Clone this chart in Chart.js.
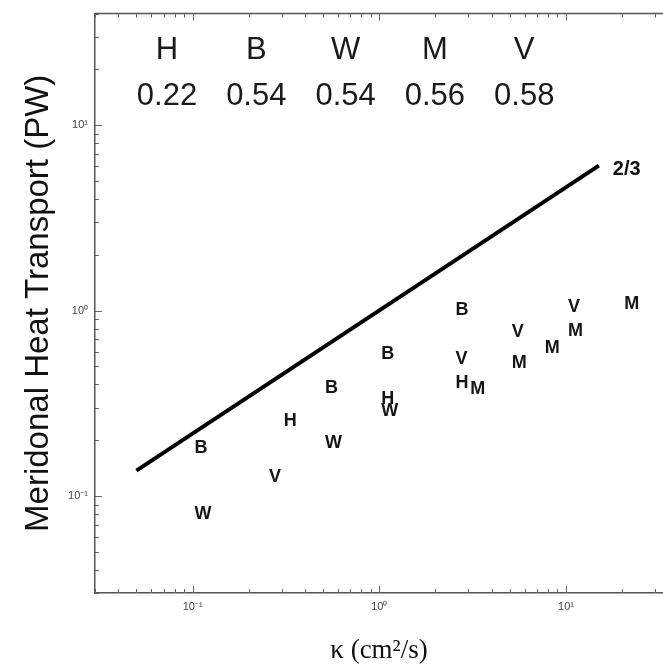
<!DOCTYPE html>
<html>
<head>
<meta charset="utf-8">
<script src="https://cdn.jsdelivr.net/npm/chart.js@4/dist/chart.umd.min.js"></script>
<style>
  html, body { margin: 0; padding: 0; background: #fff; overflow: hidden; }
  #wrap { width: 663px; height: 667px; }
</style>
</head>
<body>
<div id="wrap"><canvas id="c" width="663" height="667"></canvas></div>
<script>
// Diffusivity kappa (cm^2/s) and meridional heat transport (PW) for each model
const kappaH = [0.3, 1.0, 2.5];
const heatH  = [0.255, 0.334, 0.407];
const kappaB = [0.1, 0.5, 1.0, 2.5];
const heatB  = [0.181, 0.383, 0.582, 1.01];
const kappaW = [0.1, 0.5, 1.0];
const heatW  = [0.080, 0.192, 0.288];
const kappaM = [3.0, 5.0, 7.5, 10.0, 20.0];
const heatM  = [0.379, 0.521, 0.627, 0.773, 1.08];
const kappaV = [0.25, 2.5, 5.0, 10.0];
const heatV  = [0.126, 0.547, 0.762, 1.04];

// Header: model letters and fitted power-law exponents
const models    = ['H', 'B', 'W', 'M', 'V'];
const exponents = ['0.22', '0.54', '0.54', '0.56', '0.58'];

// Reference 2/3 power-law line
const refKappa = [0.05, 15];
const refHeat  = [0.137, 6.05];
const refLabel = '2/3';

// Axis ticks
const xTicks = [0.1, 1, 10];
const yTicks = [0.1, 1, 10];
const xTickLabels = ['10\u207B\u00B9', '10\u2070', '10\u00B9'];
const yTickLabels = ['10\u207B\u00B9', '10\u2070', '10\u00B9'];

const pts = (xs, ys) => xs.map((v, i) => ({ x: v, y: ys[i] }));
const letterSet = (letter, xs, ys) => ({
  letter, data: pts(xs, ys), showLine: false, pointRadius: 0, pointHoverRadius: 0
});

Chart.defaults.font.family = '"Liberation Sans", Arial, sans-serif';

// Inward ticks on bottom, left and top; top border line
const frame = {
  id: 'frame',
  afterDraw(chart) {
    const { ctx, chartArea: a, scales: { x, y } } = chart;
    ctx.save();
    ctx.strokeStyle = '#555';
    ctx.lineWidth = 1.5;
    ctx.beginPath();
    ctx.moveTo(a.left, a.top);
    ctx.lineTo(a.right, a.top);
    ctx.stroke();
    ctx.strokeStyle = '#666';
    ctx.lineWidth = 1;
    ctx.beginPath();
    for (let e = -2; e <= 2; e++) {
      for (let k = 1; k <= 9; k++) {
        const v = k * Math.pow(10, e);
        const len = k === 1 ? 7 : 4;
        if (v >= x.min && v <= x.max) {
          const px = Math.round(x.getPixelForValue(v)) + 0.5;
          ctx.moveTo(px, a.bottom); ctx.lineTo(px, a.bottom - len);
          ctx.moveTo(px, a.top); ctx.lineTo(px, a.top + len);
        }
        if (v >= y.min && v <= y.max) {
          const py = Math.round(y.getPixelForValue(v)) + 0.5;
          ctx.moveTo(a.left, py); ctx.lineTo(a.left + len, py);
        }
      }
    }
    ctx.stroke();
    ctx.restore();
  }
};

// Model letters at their data points (text starts at the point, with a small margin),
// the 2/3 label, and the exponent header
const annotate = {
  id: 'annotate',
  afterDatasetsDraw(chart) {
    const { ctx, chartArea: a } = chart;
    ctx.save();
    ctx.fillStyle = '#151515';
    ctx.textAlign = 'left';
    ctx.textBaseline = 'middle';
    ctx.font = 'bold 18px "Liberation Sans", Arial, sans-serif';
    chart.data.datasets.forEach((ds, i) => {
      if (!ds.letter) return;
      chart.getDatasetMeta(i).data.forEach(p => ctx.fillText(ds.letter, p.x + 2, p.y));
    });

    const refMeta = chart.getDatasetMeta(0).data;
    const end = refMeta[refMeta.length - 1];
    ctx.font = 'bold 20px "Liberation Sans", Arial, sans-serif';
    ctx.fillStyle = '#111';
    ctx.fillText(refLabel, end.x + 14, end.y + 4);

    ctx.font = '31px "Liberation Sans", Arial, sans-serif';
    ctx.fillStyle = '#1a1a1a';
    ctx.textAlign = 'center';
    models.forEach((m, i) => {
      const cx = a.left + 72 + i * 89.3;
      ctx.fillText(m, cx, a.top + 37);
      ctx.fillText(exponents[i], cx, a.top + 83);
    });
    ctx.restore();
  }
};

new Chart(document.getElementById('c'), {
  type: 'scatter',
  data: {
    datasets: [
      { data: pts(refKappa, refHeat), showLine: true, borderColor: '#000', borderWidth: 4,
        pointRadius: 0, pointHoverRadius: 0, borderCapStyle: 'butt' },
      letterSet('H', kappaH, heatH),
      letterSet('B', kappaB, heatB),
      letterSet('W', kappaW, heatW),
      letterSet('M', kappaM, heatM),
      letterSet('V', kappaV, heatV)
    ]
  },
  options: {
    responsive: false,
    animation: false,
    devicePixelRatio: 1,
    layout: { padding: { top: 8, right: 0, left: 0, bottom: 0 } },
    plugins: { legend: { display: false }, tooltip: { enabled: false } },
    scales: {
      x: {
        type: 'logarithmic',
        position: 'bottom',
        min: 0.03,
        max: 33.1,
        afterBuildTicks: s => { s.ticks = xTicks.map(v => ({ value: v, major: true })); },
        afterFit: s => { s.height = 74; },
        ticks: {
          autoSkip: false, maxRotation: 0, padding: 7, color: '#444',
          font: { size: 11 },
          callback: v => xTickLabels[xTicks.indexOf(v)]
        },
        grid: { display: false, drawTicks: false },
        border: { display: true, color: '#555', width: 1.5 },
        title: {
          display: true, text: '\u03BA (cm\u00B2/s)', color: '#111',
          font: { family: '"Liberation Serif", "Times New Roman", serif', size: 27 },
          padding: { top: 0, bottom: 0 }
        }
      },
      y: {
        type: 'logarithmic',
        position: 'left',
        min: 0.03,
        max: 40,
        afterBuildTicks: s => { s.ticks = yTicks.map(v => ({ value: v, major: true })); },
        afterFit: s => { s.width = 95; },
        ticks: {
          autoSkip: false, padding: 7, color: '#444',
          font: { size: 11 },
          callback: v => yTickLabels[yTicks.indexOf(v)]
        },
        grid: { display: false, drawTicks: false },
        border: { display: true, color: '#555', width: 1.5 },
        title: {
          display: true, text: 'Meridonal Heat Transport (PW)', color: '#111',
          font: { size: 33 },
          padding: { top: 19, bottom: 0 }
        }
      }
    }
  },
  plugins: [frame, annotate]
});
</script>
</body>
</html>
